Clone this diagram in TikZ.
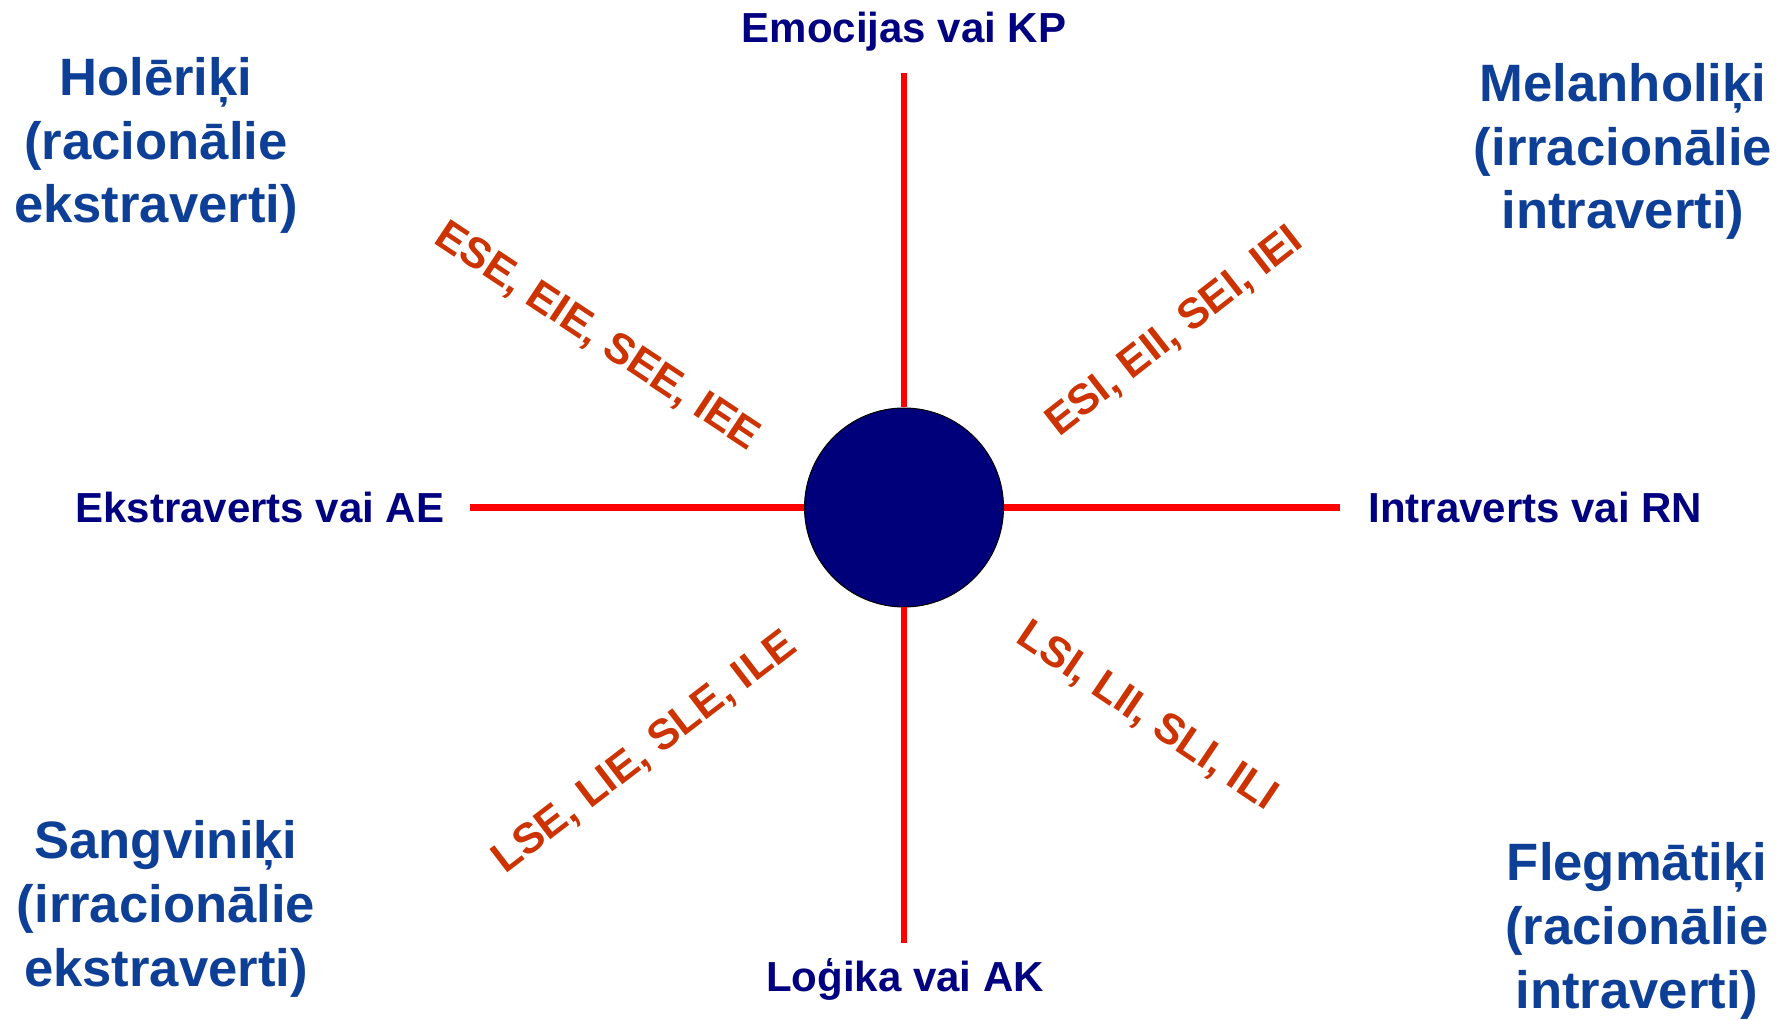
\documentclass[tikz,border=0pt]{standalone}
\usepackage{fontspec}
\setmainfont{Liberation Sans}
\definecolor{axisnavy}{RGB}{0,0,128}
\definecolor{ballnavy}{RGB}{0,0,122}
\definecolor{quadblue}{RGB}{14,63,150}
\definecolor{typered}{RGB}{204,51,0}
\definecolor{linered}{RGB}{255,0,0}
\tikzset{
  axislabel/.style={inner sep=0pt, text=axisnavy, font=\fontsize{21pt}{25pt}\selectfont\bfseries},
  quadlabel/.style={inner sep=0pt, text=quadblue, align=center, font=\fontsize{26.3pt}{31.8pt}\selectfont\bfseries},
  typelabel/.style={inner sep=0pt, text=typered, font=\fontsize{21.3pt}{25pt}\selectfont\bfseries},
  axisline/.style={draw=linered, line width=3.15pt},
  ball/.style={circle, fill=ballnavy, draw=black, line width=0.5pt, minimum size=99.5pt, inner sep=0pt}
}
\begin{document}
\begin{tikzpicture}[x=0.5pt,y=-0.5pt]
\useasboundingbox[fill=white] (0,0) rectangle (1777,1020);
% axis ends
\coordinate (topend) at (904,73);
\coordinate (botend) at (904,943);
\coordinate (leftend) at (470,507.5);
\coordinate (rightend) at (1340,507.5);
% centre ball
\node[ball] (centre) at (904,507.5) {};
% lines
\draw[axisline] (centre.north) -- (topend);
\draw[axisline] (centre.south) -- (botend);
\draw[axisline] (centre.west) -- (leftend);
\draw[axisline] (centre.east) -- (rightend);
% axis labels
\node[axislabel, anchor=base] (emo) at (904,43) {Emocijas vai KP};
\node[axislabel, anchor=base] (log) at (905,991) {Loģika vai AK};
\node[axislabel, anchor=base west] (ekst) at (75,523) {Ekstraverts vai AE};
\node[axislabel, anchor=base west] (intr) at (1368,523) {Intraverts vai RN};
% quadrant labels (base = baseline of last line)
\node[quadlabel, anchor=base] (hol) at (156,223) {Holēriķi\\(racionālie\\ekstraverti)};
\node[quadlabel, anchor=base] (mel) at (1623,229) {Melanholiķi\\(irracionālie\\intraverti)};
\node[quadlabel, anchor=base] (san) at (166,986) {Sangviniķi\\(irracionālie\\ekstraverti)};
\node[quadlabel, anchor=base] (fle) at (1637,1008) {Flegmātiķi\\(racionālie\\intraverti)};
% type labels
\node[typelabel, rotate=-33.5] (ese) at (597,337) {ESE, EIE, SEE, IEE};
\node[typelabel, rotate=38] (esi) at (1175,332) {ESI, EII, SEI, IEI};
\node[typelabel, rotate=37.5] (lse) at (645,753) {LSE, LIE, SLE, ILE};
\node[typelabel, rotate=-34] (lsi) at (1147,717) {LSI, LII, SLI, ILI};
\end{tikzpicture}
\end{document}
